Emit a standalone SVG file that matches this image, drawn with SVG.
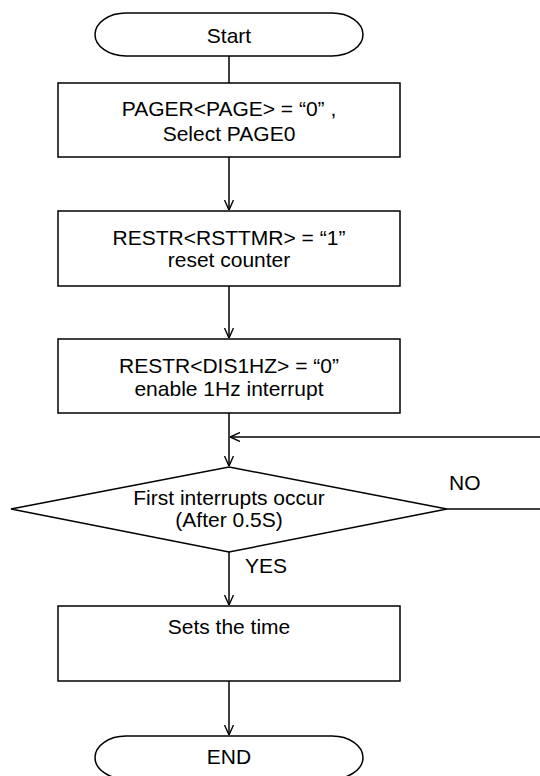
<svg xmlns="http://www.w3.org/2000/svg" width="540" height="776" viewBox="0 0 540 776">
<style>
.s{fill:#fff;stroke:#000;stroke-width:1.5}
.c{fill:none;stroke:#000;stroke-width:1.5}
text{font-family:"Liberation Sans",Arial,sans-serif;font-size:21px;fill:#000;text-anchor:middle}
.l{text-anchor:start}
</style>
<defs>
<marker id="arr" markerUnits="userSpaceOnUse" viewBox="0 0 10 10" refX="10" refY="5" markerWidth="10" markerHeight="10" orient="auto">
<path d="M0,0.5 L10,5 L0,9.5" fill="none" stroke="#000" stroke-width="1.4"/>
</marker>
</defs>
<g id="connectors">
<path class="c" d="M229,56 V83"/>
<path class="c" d="M229,157 V210" marker-end="url(#arr)"/>
<path class="c" d="M229,286 V338" marker-end="url(#arr)"/>
<path class="c" d="M229,413 V466" marker-end="url(#arr)"/>
<path class="c" d="M447,509 H542 V437 H230" marker-end="url(#arr)"/>
<path class="c" d="M229,552 V605" marker-end="url(#arr)"/>
<path class="c" d="M229,681 V735" marker-end="url(#arr)"/>
</g>
<g id="start">
<path class="s" d="M126,13 H332 A31,21.5 0 0 1 332,56 H126 A31,21.5 0 0 1 126,13 Z"/>
<text x="229" y="43">Start</text>
</g>
<g id="box1">
<rect class="s" x="58" y="83" width="342" height="74"/>
<text x="229" y="116">PAGER&lt;PAGE&gt; = “0” ,</text>
<text x="229" y="141">Select PAGE0</text>
</g>
<g id="box2">
<rect class="s" x="58" y="211" width="342" height="75"/>
<text x="229" y="245">RESTR&lt;RSTTMR&gt; = “1”</text>
<text x="229" y="267">reset counter</text>
</g>
<g id="box3">
<rect class="s" x="58" y="339" width="342" height="74"/>
<text x="229" y="373">RESTR&lt;DIS1HZ&gt; = “0”</text>
<text x="229" y="396">enable 1Hz interrupt</text>
</g>
<g id="decision">
<polygon class="s" points="229,467 447,509 229,552 11,509"/>
<text x="229" y="505">First interrupts occur</text>
<text x="229" y="527">(After 0.5S)</text>
<text class="l" x="449" y="490">NO</text>
<text class="l" x="245" y="573">YES</text>
</g>
<g id="box4">
<rect class="s" x="58" y="606" width="342" height="75"/>
<text x="229" y="634">Sets the time</text>
</g>
<g id="end">
<path class="s" d="M126,736 H332 A31,21.5 0 0 1 332,779 H126 A31,21.5 0 0 1 126,736 Z"/>
<text x="229" y="764">END</text>
</g>
</svg>
